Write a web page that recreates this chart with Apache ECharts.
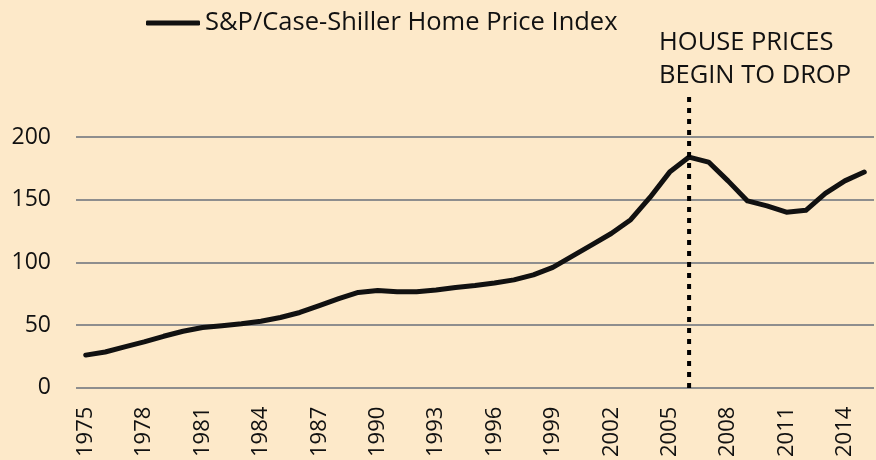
<!DOCTYPE html>
<html>
<head>
<meta charset="utf-8">
<script src="https://cdn.jsdelivr.net/npm/echarts@6/dist/echarts.min.js"></script>
<style>
  html, body { margin: 0; padding: 0; background: #fde9c9; }
  #chart { width: 876px; height: 460px; }
</style>
</head>
<body>
<div id="chart"></div>
<script>
var years = ['1975','1976','1977','1978','1979','1980','1981','1982','1983','1984',
  '1985','1986','1987','1988','1989','1990','1991','1992','1993','1994',
  '1995','1996','1997','1998','1999','2000','2001','2002','2003','2004',
  '2005','2006','2007','2008','2009','2010','2011','2012','2013','2014','2015'];
var priceIndex = [26, 28.5, 32.5, 36.5, 41, 45, 48, 49.5, 51, 53,
  56, 60, 65.5, 71, 76, 77.5, 76.5, 76.5, 78, 80,
  81.5, 83.5, 86, 90, 96, 105, 114, 123, 134, 152,
  172, 184, 180, 165, 149, 145, 140, 141.5, 155, 165, 172];
var yTicks = [0, 50, 100, 150, 200];
var dropYear = '2006';
var dropLineTop = 236;   // dotted line runs above the plot area
var seriesName = 'S&P/Case-Shiller Home Price Index';
var note = 'HOUSE PRICES\nBEGIN TO DROP';

var font = 'Open Sans';
var myChart = echarts.init(document.getElementById('chart'));
var option = {
  backgroundColor: '#fde9c9',
  animation: false,
  textStyle: { fontFamily: font },
  title: {
    text: note,
    left: 659,
    top: 26,
    padding: 0,
    textStyle: { fontFamily: font, fontSize: 25.5, fontWeight: 'normal', color: '#111', lineHeight: 33 }
  },
  legend: {
    data: [{ name: seriesName, icon: 'roundRect' }],
    left: 146,
    top: 10,
    padding: 0,
    itemWidth: 54,
    itemHeight: 5,
    itemGap: 5,
    itemStyle: { color: '#111', borderWidth: 0 },
    textStyle: { fontFamily: font, fontSize: 25.5, color: '#111', padding: [0, 0, 0, 0] }
  },
  grid: [
    { left: 76, right: 2, top: 137, bottom: 72 },
    // second grid, taller, only for the dotted marker line
    { left: 76, right: 2, top: 92, bottom: 72 }
  ],
  xAxis: [{
    type: 'category',
    data: years,
    boundaryGap: true,
    axisLine: { show: false },
    axisTick: { show: false },
    axisLabel: { interval: 2, rotate: 90, margin: 19, fontSize: 22, color: '#111', fontFamily: font }
  }, {
    type: 'category',
    gridIndex: 1,
    data: years,
    boundaryGap: true,
    show: false
  }],
  yAxis: [{
    type: 'value',
    min: yTicks[0],
    max: yTicks[yTicks.length - 1],
    interval: 50,
    axisLine: { show: false },
    axisTick: { show: false },
    axisLabel: { margin: 25, fontSize: 23, color: '#111', fontFamily: font },
    splitLine: { lineStyle: { color: '#8e8e8e', width: 2 } }
  }, {
    type: 'value',
    gridIndex: 1,
    min: 0,
    max: dropLineTop,
    show: false
  }],
  series: [{
    name: seriesName,
    type: 'line',
    data: priceIndex,
    symbol: 'none',
    smooth: false,
    lineStyle: { color: '#111', width: 5, cap: 'round', join: 'round' },
    itemStyle: { color: '#111' },
    z: 3
  }, {
    name: 'drop',
    type: 'line',
    xAxisIndex: 1,
    yAxisIndex: 1,
    data: [[dropYear, 0], [dropYear, dropLineTop]],
    symbol: 'none',
    silent: true,
    lineStyle: { color: '#000', width: 4, type: [5, 6], cap: 'butt' },
    z: 4
  }]
};
myChart.setOption(option);
</script>
</body>
</html>
